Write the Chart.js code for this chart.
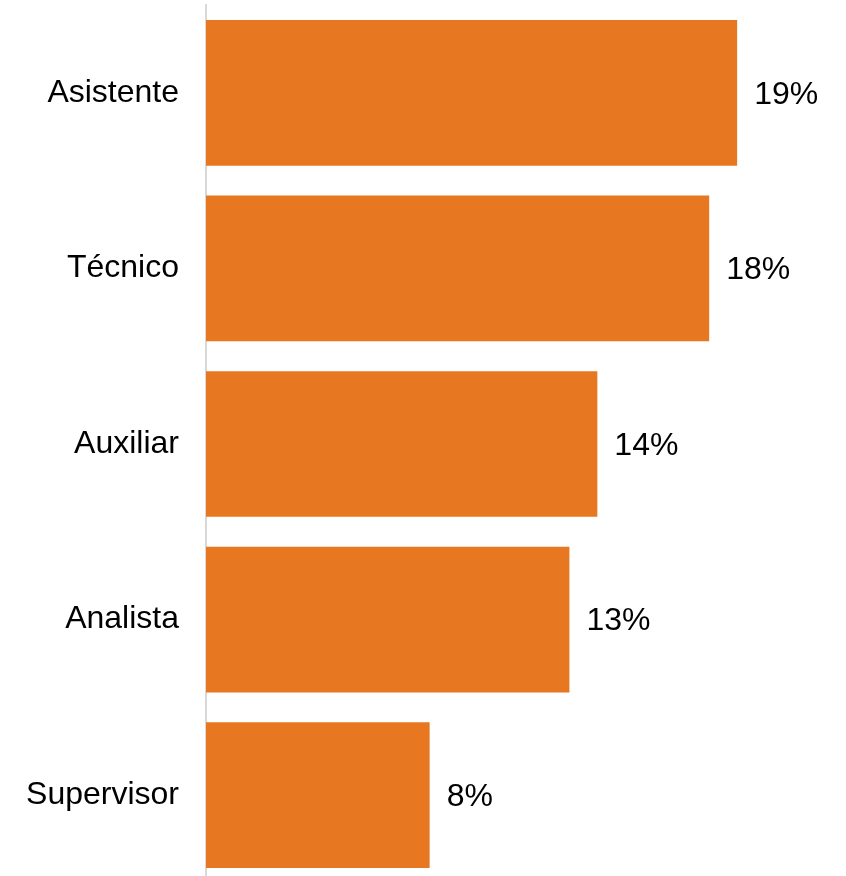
<!DOCTYPE html>
<html>
<head>
<meta charset="utf-8">
<script src="https://cdn.jsdelivr.net/npm/chart.js@4/dist/chart.umd.min.js"></script>
<style>
  html, body { margin: 0; padding: 0; background: #fff; overflow: hidden; }
  #wrap { width: 846px; height: 884px; }
</style>
</head>
<body>
<div id="wrap"><canvas id="chart" width="846" height="884"></canvas></div>
<script>
const categories = ["Asistente", "Técnico", "Auxiliar", "Analista", "Supervisor"];
const shares = [19, 18, 14, 13, 8];

const FONT = { family: "'Liberation Sans', Arial, sans-serif", size: 32 };

const valueLabels = {
  id: "valueLabels",
  afterDatasetsDraw(chart) {
    const ctx = chart.ctx;
    const meta = chart.getDatasetMeta(0);
    ctx.save();
    ctx.font = `${FONT.size}px ${FONT.family}`;
    ctx.fillStyle = "#000";
    ctx.textAlign = "left";
    ctx.textBaseline = "middle";
    meta.data.forEach((bar, i) => {
      ctx.fillText(shares[i] + "%", bar.x + 17, bar.y + 2);
    });
    ctx.restore();
  }
};

new Chart(document.getElementById("chart"), {
  type: "bar",
  data: {
    labels: categories,
    datasets: [{
      data: shares,
      backgroundColor: "#E87722",
      borderWidth: 0,
      categoryPercentage: 1,
      barPercentage: 0.83
    }]
  },
  options: {
    indexAxis: "y",
    responsive: false,
    animation: false,
    layout: { padding: { top: 5, bottom: 1, left: 0, right: 25 } },
    plugins: { legend: { display: false }, tooltip: { enabled: false } },
    scales: {
      x: { display: false, min: 0, max: 22 },
      y: {
        grid: { display: false, drawTicks: false },
        border: { display: true, color: "#d9d9d9", width: 2 },
        ticks: { color: "#000", font: FONT, padding: 27 },
        afterFit(scale) {
          scale.width = 206;
          scale.paddingTop = 0;
          scale.paddingBottom = 0;
        }
      }
    }
  },
  plugins: [valueLabels]
});
</script>
</body>
</html>
